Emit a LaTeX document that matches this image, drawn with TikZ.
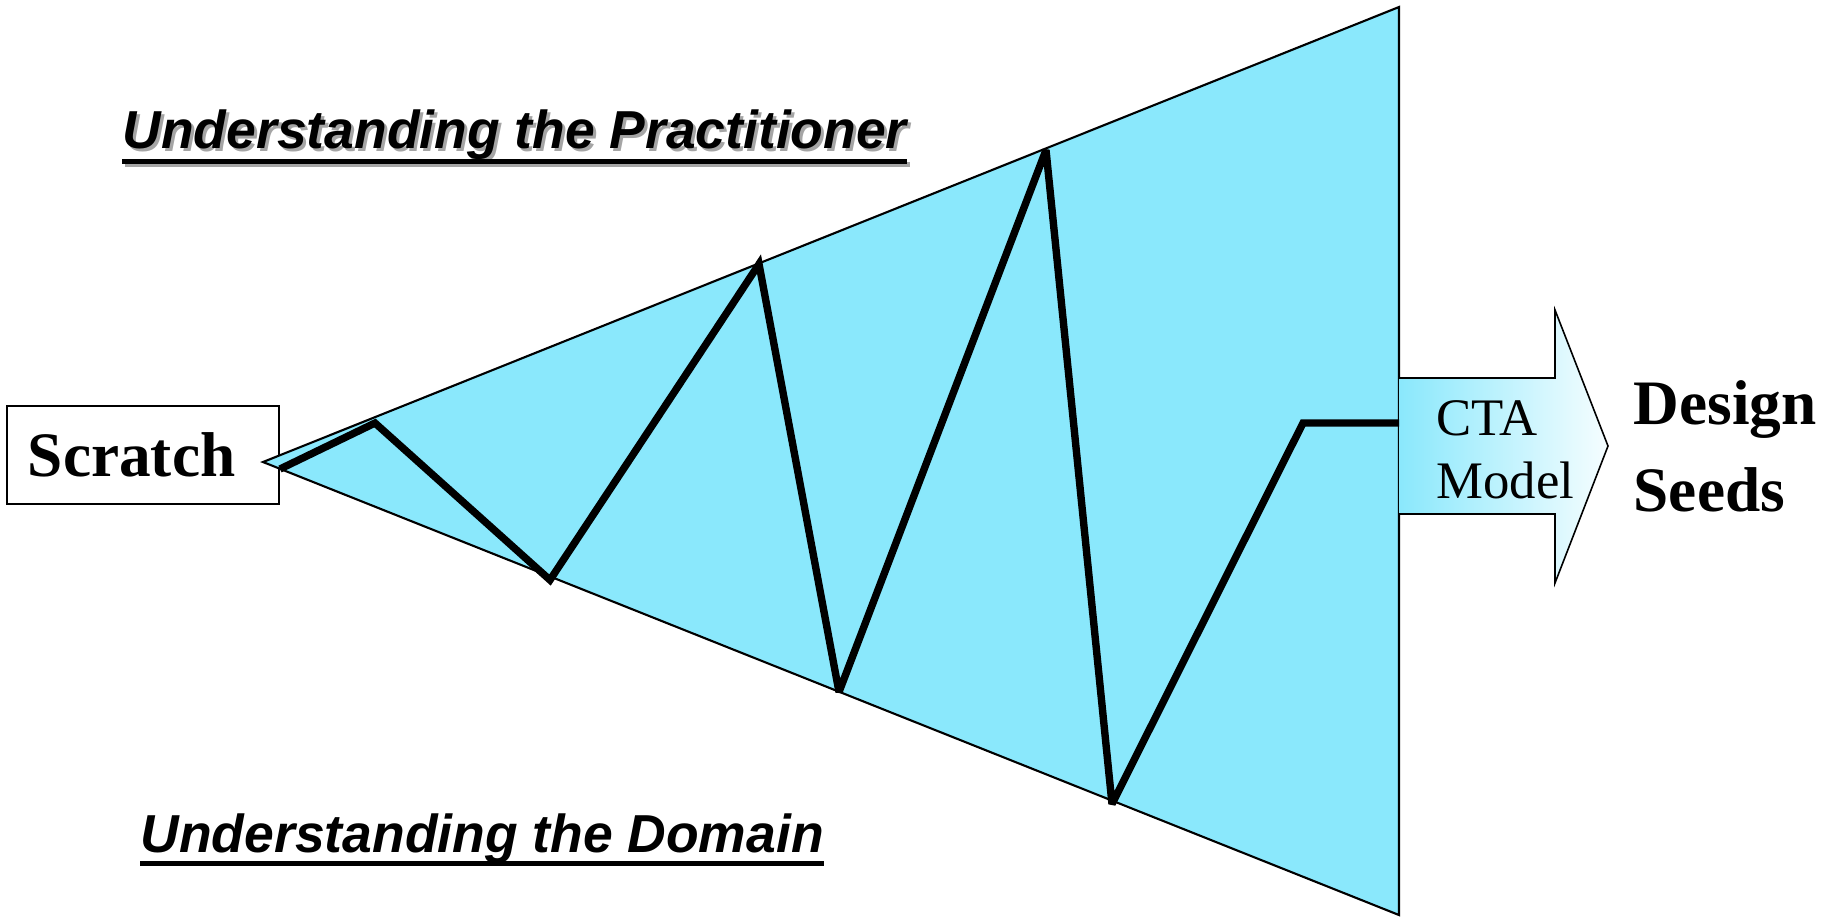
\documentclass[tikz,border=0pt]{standalone}
\usepackage{fontspec}
\setmainfont{Liberation Serif}
\newfontfamily\arialfont{Liberation Sans}

\definecolor{funnelcyan}{RGB}{138,232,252}
\definecolor{shadowgray}{RGB}{165,165,165}

\tikzset{
  headline/.style={font=\arialfont\bfseries\itshape\fontsize{15.2}{18}\selectfont,
    anchor=base west, inner sep=0pt},
  bigword/.style={font=\bfseries\fontsize{18}{24.8}\selectfont},
  zigzag/.style={line width=2.1pt, line join=miter, miter limit=3},
}

\begin{document}
\begin{tikzpicture}[x=0.01cm, y=-0.01cm]
    \useasboundingbox (0,0) rectangle (1833,917);

    \node[draw, line width=0.6pt, text width=2.3cm, align=left, inner xsep=0.21cm,
      minimum height=0.98cm, inner ysep=0pt, bigword] (scratch) at (143,455) {Scratch};

    % the funnel
    \coordinate (tip) at (263,462);
    \coordinate (topc) at (1399,7);
    \coordinate (botc) at (1399,915);
    \draw[line width=0.6pt, fill=funnelcyan] (tip) -- (topc) -- (botc) -- cycle;

    % arrow out of the funnel
    \draw[line width=0.45pt, left color=funnelcyan, right color=funnelcyan!8]
      (1399,378) -- (1555,378) -- (1555,310) -- (1608,446)
      -- (1555,583) -- (1555,514) -- (1399,514);

    % zigzag between the two sides
    \coordinate (z0) at (280,469);
    \coordinate (z1) at (375,423);
    \coordinate (z2) at (550,580);
    \coordinate (z3) at (759,264);
    \coordinate (z4) at (839,692);
    \coordinate (z5) at (1046,150);
    \coordinate (z6) at (1112,804);
    \coordinate (z7) at (1303,423);
    \coordinate (z8) at (1399,423);
    \draw[zigzag] (z0) -- (z1) -- (z2) -- (z3) -- (z4) -- (z5) -- (z6) -- (z7) -- (z8);

    \node[align=left, anchor=west, inner sep=0pt, font=\fontsize{15}{17.9}\selectfont]
      (cta) at (1436,450) {CTA\\Model};
    \node[bigword, align=left, anchor=west, inner sep=0pt] (seeds) at (1633,446) {Design\\Seeds};

    % titles
    \node[headline, text=shadowgray] (practshadow) at (125,151) {Understanding the Practitioner};
    \draw[shadowgray, line width=1.42pt] ([yshift=-0.13cm]practshadow.base west)
      -- ([yshift=-0.13cm]practshadow.base east);
    \node[headline] (practitioner) at (122,148) {Understanding the Practitioner};
    \draw[line width=1.42pt] ([yshift=-0.13cm]practitioner.base west)
      -- ([yshift=-0.13cm]practitioner.base east);

    \node[headline] (domain) at (140,852) {Understanding the Domain};
    \draw[line width=1.42pt] ([yshift=-0.11cm]domain.base west)
      -- ([yshift=-0.11cm]domain.base east);
  \end{tikzpicture}
\end{document}
